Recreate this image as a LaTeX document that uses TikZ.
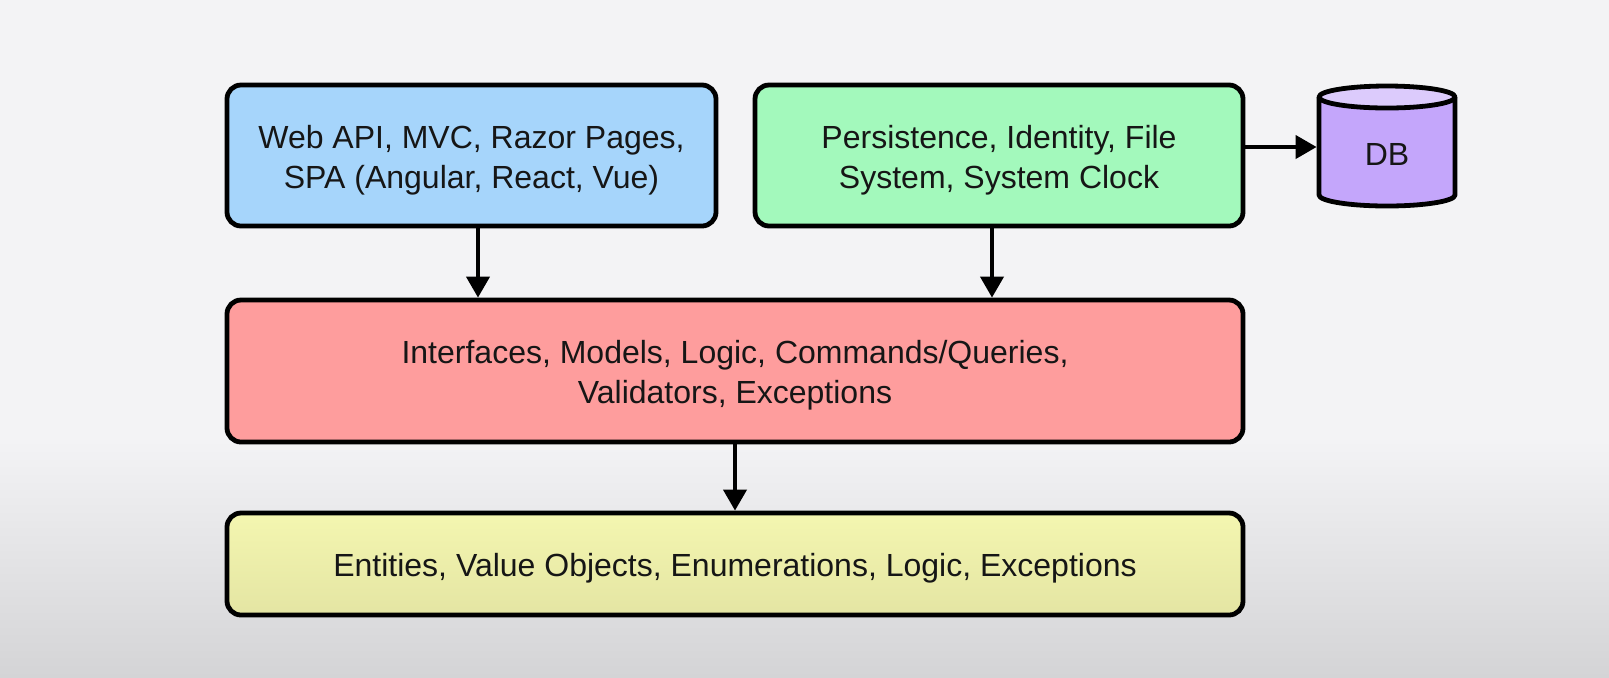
\documentclass[tikz,border=0pt]{standalone}
\usepackage{fontspec}
\setmainfont{Liberation Sans}
\usetikzlibrary{arrows.meta,calc}
\definecolor{bg}{HTML}{F3F3F5}
\definecolor{bgdark}{HTML}{D4D4D6}
\definecolor{bluefill}{HTML}{A6D5FB}
\definecolor{greenfill}{HTML}{A3F9BC}
\definecolor{redfill}{HTML}{FE9D9D}
\definecolor{yeltop}{HTML}{F4F6B0}
\definecolor{yelbot}{HTML}{E4E5A3}
\definecolor{dbbody}{HTML}{C4A6FB}
\definecolor{dbtop}{HTML}{DCCBFC}
\definecolor{ink}{HTML}{161616}
\newcommand\mytopstrut[1]{\rule{0pt}{#1}}
\begin{document}
\begin{tikzpicture}[x=0.5pt,y=-0.5pt,
  txt/.style={font=\fontsize{16}{20}\selectfont, text=ink},
  layer/.style={txt, draw=black, line width=2.4pt, rounded corners=7pt, align=center,
    inner sep=0pt},
  arr/.style={line width=2pt, -{Triangle[width=11.5pt,length=10.5pt]}},
  dbline/.style={draw=black, line width=2.4pt, line join=round}]
\useasboundingbox (0,0) rectangle (1609,677);
\fill[bg] (0,0) rectangle (1609,677);
\shade[top color=bg, bottom color=bgdark] (0,440) rectangle (1609,677);

\node[layer, fill=bluefill, minimum width=244.5pt, minimum height=70.5pt] (ui) at (471.5,155.5)
  {\mytopstrut{16pt}Web API, MVC, Razor Pages,\\SPA (Angular, React, Vue)};
\node[layer, fill=greenfill, minimum width=244pt, minimum height=70.5pt] (infra) at (999,155.5)
  {\mytopstrut{16pt}Persistence, Identity, File\\System, System Clock};
\node[layer, fill=redfill, minimum width=508pt, minimum height=71pt] (app) at (735,371)
  {\mytopstrut{16pt}Interfaces, Models, Logic, Commands/Queries,\\Validators, Exceptions};
\node[layer, top color=yeltop, bottom color=yelbot, minimum width=508pt, minimum height=51pt] (domain) at (735,564)
  {\mytopstrut{15.5pt}Entities, Value Objects, Enumerations, Logic, Exceptions};

% database cylinder
\fill[dbbody] (1319,97) -- (1319,195) arc[start angle=180,end angle=360,x radius=34pt,y radius=5.5pt] -- (1455,97) -- cycle;
\draw[dbline] (1319,97) -- (1319,195) arc[start angle=180,end angle=360,x radius=34pt,y radius=5.5pt] -- (1455,97);
\filldraw[dbline, fill=dbtop] (1387,97) ellipse[x radius=34pt, y radius=5.5pt];
\node[txt, minimum width=68pt, minimum height=40pt, inner sep=0pt, outer sep=1.2pt] (db) at (1387,147) {\mytopstrut{18pt}DB};

\draw[arr] ([xshift=3.25pt]ui.south) -- ([xshift=3.25pt]ui.south |- app.north);
\draw[arr] ([xshift=-3.5pt]infra.south) -- ([xshift=-3.5pt]infra.south |- app.north);
\draw[arr] (app.south) -- (domain.north);
\draw[arr] (infra.east |- db.west) -- (db.west);
\end{tikzpicture}
\end{document}
